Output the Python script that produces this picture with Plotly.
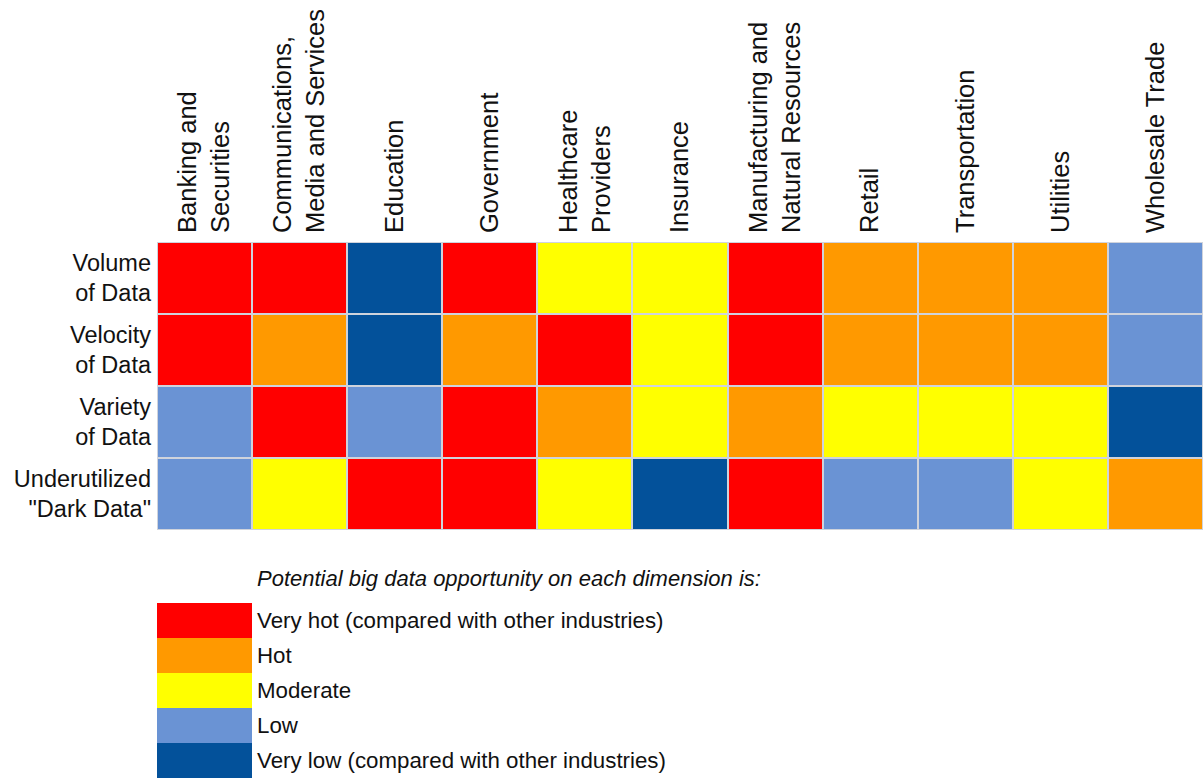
import plotly.graph_objects as go

industries = [
    "Banking and<br>Securities",
    "Communications,<br>Media and Services",
    "Education",
    "Government",
    "Healthcare<br>Providers",
    "Insurance",
    "Manufacturing and<br>Natural Resources",
    "Retail",
    "Transportation",
    "Utilities",
    "Wholesale Trade",
]
dimensions = [
    "Volume<br>of Data",
    "Velocity<br>of Data",
    "Variety<br>of Data",
    "Underutilized<br>\"Dark Data\"",
]
# 4 = Very hot, 3 = Hot, 2 = Moderate, 1 = Low, 0 = Very low
volume = [4, 4, 0, 4, 2, 2, 4, 3, 3, 3, 1]
velocity = [4, 3, 0, 3, 4, 2, 4, 3, 3, 3, 1]
variety = [1, 4, 1, 4, 3, 2, 3, 2, 2, 2, 0]
dark_data = [1, 2, 4, 4, 2, 0, 4, 1, 1, 2, 3]

legend_labels = [
    "Very hot (compared with other industries)",
    "Hot",
    "Moderate",
    "Low",
    "Very low (compared with other industries)",
]
legend_levels = [4, 3, 2, 1, 0]
legend_title = "Potential big data opportunity on each dimension is:"

level_colors = ["#03519A", "#6A93D4", "#FFFF00", "#FF9900", "#FF0000"]

colorscale = []
n = len(level_colors)
for i, c in enumerate(level_colors):
    colorscale.append([i / n, c])
    colorscale.append([(i + 1) / n, c])

FONT = "Liberation Sans, Arial, sans-serif"
TXT = "#111111"

fig = go.Figure()
fig.add_trace(go.Heatmap(
    z=[volume, velocity, variety, dark_data],
    x=industries,
    y=dimensions,
    zmin=-0.5, zmax=4.5,
    colorscale=colorscale,
    showscale=False,
    xgap=2, ygap=2,
    hoverinfo="skip",
    xaxis="x", yaxis="y",
))
fig.add_trace(go.Heatmap(
    z=[[v] for v in legend_levels],
    x=["swatch"],
    y=legend_labels,
    zmin=-0.5, zmax=4.5,
    colorscale=colorscale,
    showscale=False,
    hoverinfo="skip",
    xaxis="x2", yaxis="y2",
))

fig.update_layout(
    width=1203, height=780,
    margin=dict(l=157, r=0, t=242, b=2),
    paper_bgcolor="white",
    plot_bgcolor="#cfd3dc",
    font=dict(family=FONT, color=TXT),
    xaxis=dict(domain=[0, 1], side="top", tickangle=-90, showgrid=False,
               zeroline=False, ticks="", ticklabelstandoff=8,
               tickfont=dict(size=25.5, family=FONT, color=TXT),
               anchor="y", fixedrange=True),
    yaxis=dict(domain=[248 / 536, 1], autorange="reversed", showgrid=False,
               zeroline=False, ticks="", ticklabelstandoff=5,
               tickfont=dict(size=23.5, family=FONT, color=TXT),
               anchor="x", fixedrange=True),
    xaxis2=dict(domain=[0, 95 / 1046], showticklabels=False, showgrid=False,
                zeroline=False, ticks="", anchor="y2", fixedrange=True),
    yaxis2=dict(domain=[0, 175 / 536], autorange="reversed", side="right",
                showgrid=False, zeroline=False, ticks="", ticklabelstandoff=4,
                tickfont=dict(size=22.3, family=FONT, color=TXT),
                anchor="x2", fixedrange=True),
)

fig.add_annotation(
    text="<i>" + legend_title + "</i>",
    xref="paper", yref="paper",
    x=(255 - 157) / 1046, y=(778 - 578) / 536,
    xanchor="left", yanchor="middle",
    showarrow=False,
    font=dict(size=22, family=FONT, color=TXT),
)

fig.write_html(
    "out.html",
    config={"displayModeBar": False},
    post_script="document.body.style.margin='0';document.body.style.overflow='hidden';",
)
